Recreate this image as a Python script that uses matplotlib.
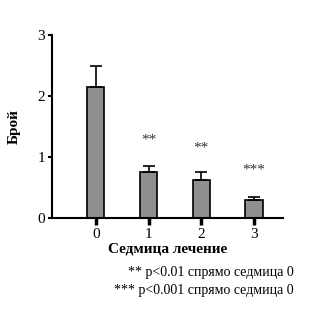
import numpy as np
import matplotlib
matplotlib.use('Agg')
import matplotlib.pyplot as plt

plt.rcParams['font.family'] = ['Liberation Serif', 'DejaVu Serif']

# данни
weeks = ['0', '1', '2', '3']
means = [2.14, 0.76, 0.62, 0.30]
errs = [0.35, 0.10, 0.13, 0.05]
stars = ['', '**', '**', '***']
star_y = [0, 1.28, 1.15, 0.79]

fig = plt.figure(figsize=(3.25, 3.13), dpi=100)
ax = fig.add_axes([0.16, 0.3035, 0.711, 0.585])

x = np.arange(len(weeks))
ax.bar(x, means, width=0.33, color='#8f8f8f', edgecolor='black', linewidth=1.2,
       yerr=[np.zeros(len(errs)), errs], capsize=4,
       error_kw=dict(elinewidth=1.2, capthick=1.2, ecolor='black'))

for xi, s, sy in zip(x, stars, star_y):
    if s:
        ax.text(xi, sy, s, ha='center', va='center', fontsize=11, color='#333333')

ax.set_xlim(-0.83, 3.55)
ax.set_ylim(0, 3)
ax.set_yticks([0, 1, 2, 3])
ax.set_xticks(x)
ax.set_xticklabels(weeks)
ax.spines['top'].set_visible(False)
ax.spines['right'].set_visible(False)
ax.spines['left'].set_linewidth(1.5)
ax.spines['bottom'].set_linewidth(1.5)
ax.tick_params(axis='y', length=3, width=1.5, labelsize=11, pad=2)
ax.tick_params(axis='x', length=5, width=2.5, labelsize=11, pad=2)

ax.set_ylabel('Брой', fontsize=11, fontweight='bold', labelpad=12)
ax.set_xlabel('Седмица лечение', fontsize=11, fontweight='bold', labelpad=1)

fig.text(0.905, 0.13, '** p<0.01 спрямо седмица 0', ha='right', va='center', fontsize=10)
fig.text(0.905, 0.072, '*** p<0.001 спрямо седмица 0', ha='right', va='center', fontsize=10)

fig.savefig('out.png', dpi=100)
